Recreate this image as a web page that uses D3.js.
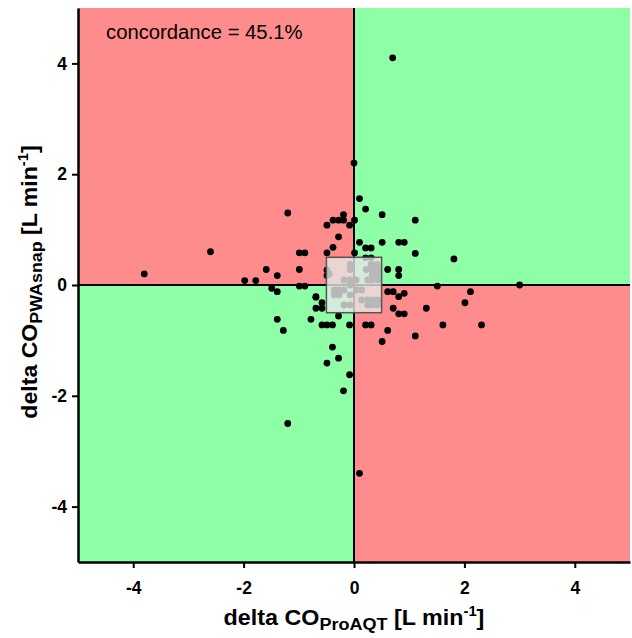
<!DOCTYPE html>
<html>
<head>
<meta charset="utf-8">
<script src="https://cdn.jsdelivr.net/npm/d3@7"></script>
<style>
  body { margin: 0; background: #fff; }
  text { font-family: Arial, "Liberation Sans", sans-serif; }
</style>
</head>
<body>
<svg id="chart" width="632" height="638"></svg>
<script>
// delta CO ProAQT (x) vs delta CO PWAsnap (y), L/min
var xVals = [-3.8, -2.6, 0.7, 0.0, 3.0, -1.2, 0.1, -1.2,
  -0.19, -0.38, -0.28, -0.19, 0.01, -0.49, -0.08, -0.28, -0.38, 0.01,
  -0.99, -0.89, -1.59, -0.99, -1.39, -1.98, -1.78, -0.99, -0.89, -1.49, -1.39, -0.69,
  -0.49, -0.49, 0.1, 0.21, 0.51, 1.11, 0.1, 0.51, 0.81, 0.91, 0.21, 0.31, 1.11, 1.81,
  0.61, 0.81, 0.81, 1.51, 0.61, 0.71, 0.91, 0.81, 2.11, 2.01, 0.71, 1.31, 0.81, 0.91,
  0.21, 0.31, 1.61, 2.31, -0.08, 0.61, 1.11, 0.51, -0.08, -0.19,
  -0.69, -0.58, -0.69, -0.58, -1.39, -0.78, -1.28, -0.58, -0.49, -0.39, -0.28,
  -0.39, -0.28, -0.49, -0.49, 0.21, 0.31,
  -0.07, -0.07, 0.31, 0.42, 0.22, 0.33, 0.43, 0.33, 0.43, -0.18, -0.07, 0.04,
  0.25, 0.33, 0.43, -0.36, -0.27, -0.18, -0.07, 0.04, 0.14, -0.36, -0.27, -0.07,
  0.14, 0.25, 0.34, 0.43, -0.18, -0.07, 0.25, 0.33, 0.43, -0.45];
var yVals = [0.2, 0.6, 4.1, 2.2, 0.0, -2.5, -3.4, 1.3,
  1.27, 1.17, 1.17, 1.17, 1.17, 1.08, 1.08, 0.87, 0.68, 0.58,
  0.58, 0.58, 0.28, 0.28, 0.17, 0.08, 0.08, -0.02, -0.02, -0.06, -0.12, -0.21,
  0.27, 0.17, 1.56, 1.37, 1.27, 1.17, 0.77, 0.77, 0.77, 0.77, 0.67, 0.67, 0.57, 0.47,
  0.28, 0.28, 0.17, -0.02, -0.12, -0.12, -0.15, -0.21, -0.12, -0.32, -0.42, -0.42, -0.52, -0.52,
  -0.72, -0.72, -0.72, -0.72, -0.72, -0.82, -0.92, -1.02, -1.62, -1.91,
  -0.22, -0.32, -0.42, -0.42, -0.62, -0.62, -0.82, -0.72, -0.72, -0.72, -0.56,
  -1.12, -1.32, -1.41, 0.58, 0.49, 0.49,
  0.37, 0.28, 0.37, 0.37, 0.28, 0.28, 0.28, 0.19, 0.19, 0.09, 0.09, 0.09,
  0.09, 0.09, 0.09, -0.09, -0.09, -0.09, 0.0, -0.09, -0.09, -0.18, -0.18, -0.18,
  -0.27, -0.27, -0.27, -0.27, -0.36, -0.36, -0.36, -0.36, -0.36, 0.2];

var tickVals = [-4, -2, 0, 2, 4];
var concordance = "45.1%";
var exclusion = 0.5;

var svg = d3.select("#chart");
var pLeft = 78, pRight = 630, pTop = 8, pBottom = 562;

var x = d3.scaleLinear().domain([-5, 5]).range([pLeft, pRight]);
var y = d3.scaleLinear().domain([-5, 5]).range([pBottom, pTop]);

var red = "#ff8c8c", green = "#8effa6";
var quads = [
  { x0: -5, x1: 0, y0: 0, y1: 5, c: red },
  { x0: 0, x1: 5, y0: 0, y1: 5, c: green },
  { x0: -5, x1: 0, y0: -5, y1: 0, c: green },
  { x0: 0, x1: 5, y0: -5, y1: 0, c: red }
];
svg.selectAll("rect.quad").data(quads).enter().append("rect")
  .attr("class", "quad")
  .attr("x", d => x(d.x0)).attr("y", d => y(d.y1))
  .attr("width", d => x(d.x1) - x(d.x0))
  .attr("height", d => y(d.y0) - y(d.y1))
  .attr("fill", d => d.c);

// zero lines
svg.append("line").attr("x1", x(0)).attr("x2", x(0)).attr("y1", pTop).attr("y2", pBottom)
  .attr("stroke", "#000").attr("stroke-width", 2);
svg.append("line").attr("x1", pLeft).attr("x2", pRight).attr("y1", y(0)).attr("y2", y(0))
  .attr("stroke", "#000").attr("stroke-width", 2);

var pts = xVals.map((v, i) => [v, yVals[i]]);
svg.selectAll("circle").data(pts).enter().append("circle")
  .attr("cx", d => x(d[0])).attr("cy", d => y(d[1]))
  .attr("r", 3.4).attr("fill", "#000");

// exclusion zone
svg.append("rect")
  .attr("x", x(-exclusion)).attr("y", y(exclusion))
  .attr("width", x(exclusion) - x(-exclusion))
  .attr("height", y(-exclusion) - y(exclusion))
  .attr("fill", "#e6e6e6").attr("fill-opacity", 0.8)
  .attr("stroke", "#555").attr("stroke-width", 1.5);

var fmt = d => String(d);
var xAxis = d3.axisBottom(x).tickValues(tickVals).tickFormat(fmt).tickSize(6).tickSizeOuter(0).tickPadding(9);
var yAxis = d3.axisLeft(y).tickValues(tickVals).tickFormat(fmt).tickSize(6).tickSizeOuter(0).tickPadding(5);

var gx = svg.append("g").attr("transform", `translate(0,${pBottom})`).call(xAxis);
var gy = svg.append("g").attr("transform", `translate(${pLeft},0)`).call(yAxis);
[gx, gy].forEach(g => {
  g.select(".domain").attr("stroke-width", 2.5);
  g.selectAll(".tick line").attr("stroke-width", 2);
  g.selectAll("text").attr("font-size", 17.5).attr("font-weight", "bold")
    .attr("font-family", "Arial, 'Liberation Sans', sans-serif").attr("fill", "#000");
});
gx.selectAll("text").attr("dy", "0.95em");

// axis titles
function title(sel, sub) {
  sel.append("tspan").text("delta CO");
  sel.append("tspan").attr("font-size", 17).attr("dy", 5).text(sub);
  sel.append("tspan").attr("dy", -5).text(" [L min");
  sel.append("tspan").attr("font-size", 14).attr("dy", -9).text("-1");
  sel.append("tspan").attr("dy", 9).text("]");
}
var xt = svg.append("text").attr("transform", `translate(${x(0)},625) scale(1.06,1)`)
  .attr("text-anchor", "middle").attr("font-size", 22).attr("font-weight", "bold");
title(xt, "ProAQT");

var yt = svg.append("text").attr("transform", `translate(37,${y(0) - 3}) rotate(-90) scale(1.05,1)`)
  .attr("text-anchor", "middle").attr("font-size", 22).attr("font-weight", "bold");
title(yt, "PWAsnap");

svg.append("text").attr("transform", "translate(106,39) scale(1.04,1)").attr("font-size", 19.5)
  .text("concordance = " + concordance);
</script>
</body>
</html>
